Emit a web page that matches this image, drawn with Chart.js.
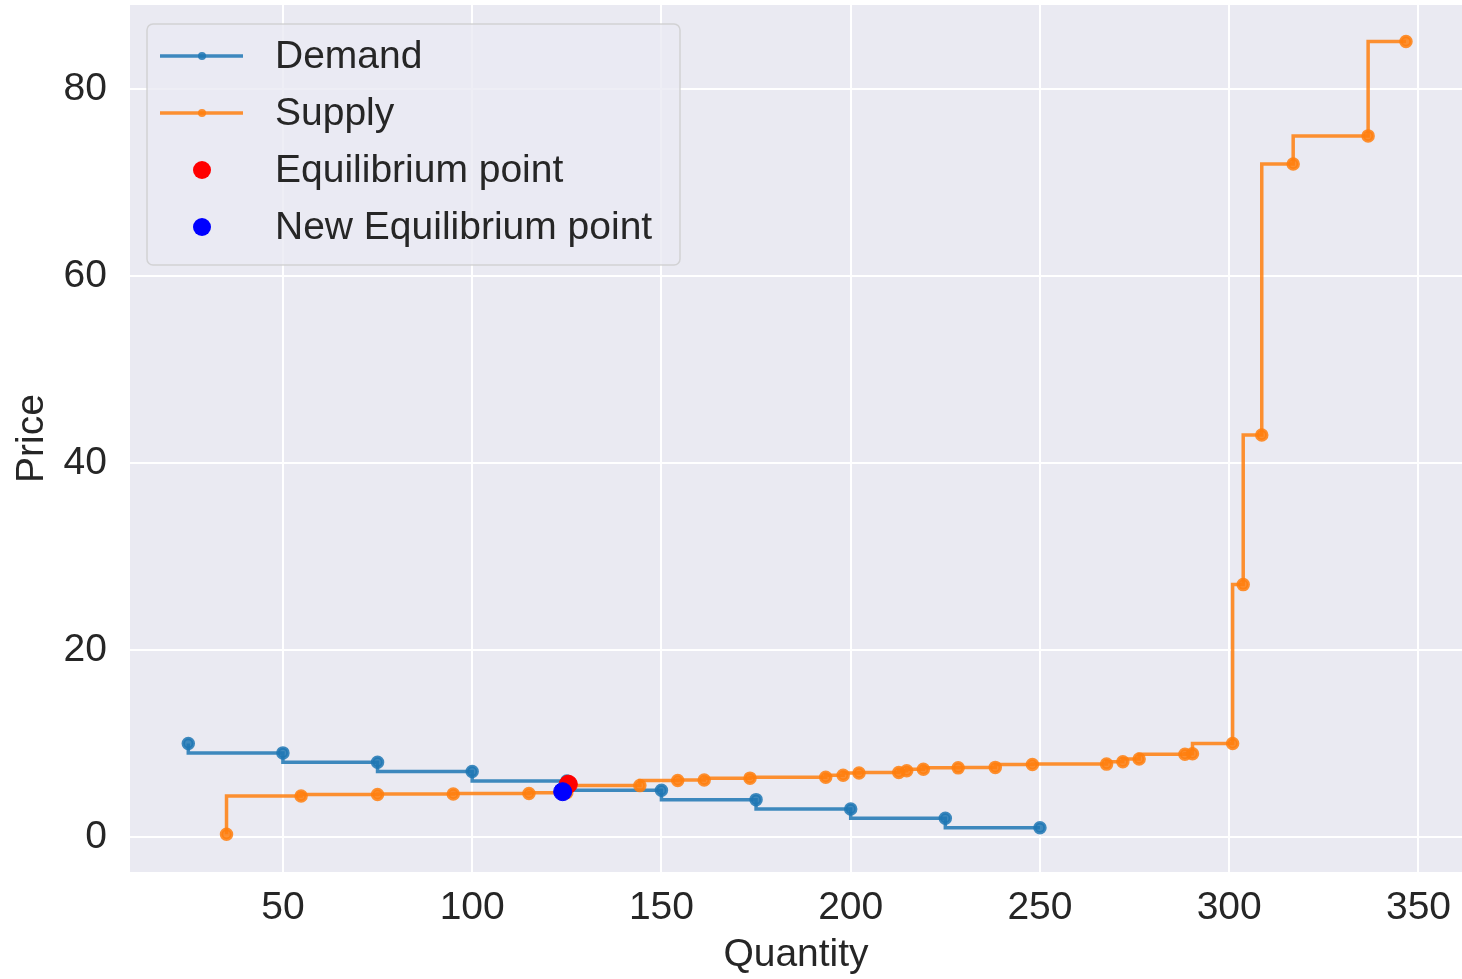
<!DOCTYPE html>
<html>
<head>
<meta charset="utf-8">
<script src="https://cdn.jsdelivr.net/npm/chart.js@4.4.1/dist/chart.umd.min.js"></script>
<style>
  html, body { margin: 0; padding: 0; background: #fff; }
</style>
</head>
<body>
<canvas id="chart" width="1462" height="979"></canvas>
<script>
// valores
const demandQty = [25, 50, 75, 100, 125, 150, 175, 200, 225, 250];
const demandPrice = [10, 9, 8, 7, 6, 5, 4, 3, 2, 1];

const supplyQty = [35.1, 54.8, 75, 95, 115, 125, 144.3, 154.3, 161.3, 173.4, 193.4, 198, 202.2, 212.7, 214.8,
  219.2, 228.4, 238.2, 248, 267.6, 271.9, 276.2, 288.3, 290.3, 300.9, 303.7, 308.6, 316.9, 336.7, 346.7];
const supplyPrice = [0.3, 4.4, 4.55, 4.6, 4.65, 4.75, 5.5, 6.05, 6.1, 6.3, 6.4, 6.6, 6.85, 6.9, 7.1,
  7.25, 7.4, 7.45, 7.75, 7.8, 8.05, 8.35, 8.85, 8.9, 10.0, 27.0, 43.0, 72.0, 75.0, 85.1];

const eqQty = [125.4];
const eqPrice = [5.65];
const newEqQty = [123.9];
const newEqPrice = [4.85];

const xTicks = [50, 100, 150, 200, 250, 300, 350];
const yTicks = [0, 20, 40, 60, 80];

const BLUE = 'rgba(31, 119, 180, 0.85)';
const ORANGE = 'rgba(255, 127, 14, 0.85)';
const FONT = '"Liberation Sans", Arial, sans-serif';
const TEXT = '#262626';

function pares(xs, ys) {
  return xs.map((x, i) => ({ x, y: ys[i] }));
}

// fundo cinza estilo seaborn
const fundoPlot = {
  id: 'fundoPlot',
  beforeDraw(chart) {
    const { ctx, chartArea: a } = chart;
    ctx.save();
    ctx.fillStyle = '#EAEAF2';
    ctx.fillRect(a.left, a.top, a.right - a.left, a.bottom - a.top);
    ctx.restore();
  }
};

// legenda dentro da área do gráfico, como no matplotlib
const legendaInterna = {
  id: 'legendaInterna',
  afterDraw(chart) {
    const ctx = chart.ctx;
    const box = { x: 147, y: 24, w: 533, h: 241 };
    ctx.save();
    ctx.beginPath();
    ctx.roundRect(box.x, box.y, box.w, box.h, 6);
    ctx.fillStyle = 'rgba(234, 234, 242, 0.8)';
    ctx.fill();
    ctx.strokeStyle = 'rgba(204, 204, 204, 0.8)';
    ctx.lineWidth = 1.5;
    ctx.stroke();

    ctx.font = '39px ' + FONT;
    ctx.fillStyle = TEXT;
    ctx.textBaseline = 'middle';
    chart.data.datasets.forEach((ds, i) => {
      const cy = 56 + i * 57;
      if (ds.showLine) {
        ctx.strokeStyle = ds.borderColor;
        ctx.lineWidth = 3.5;
        ctx.beginPath();
        ctx.moveTo(160, cy);
        ctx.lineTo(243, cy);
        ctx.stroke();
      }
      ctx.beginPath();
      ctx.arc(202, cy, ds.showLine ? 4 : 9, 0, Math.PI * 2);
      ctx.fillStyle = ds.backgroundColor;
      ctx.fill();
      ctx.fillStyle = TEXT;
      ctx.fillText(ds.label, 275, cy + 1);
    });
    ctx.restore();
  }
};

new Chart(document.getElementById('chart'), {
  type: 'scatter',
  data: {
    datasets: [
      {
        label: 'Demand',
        data: pares(demandQty, demandPrice),
        showLine: true,
        stepped: 'after',
        borderColor: BLUE,
        backgroundColor: BLUE,
        borderWidth: 3.5,
        pointRadius: 5,
        order: 4
      },
      {
        label: 'Supply',
        data: pares(supplyQty, supplyPrice),
        showLine: true,
        stepped: 'after',
        borderColor: ORANGE,
        backgroundColor: ORANGE,
        borderWidth: 3.5,
        pointRadius: 5,
        order: 3
      },
      {
        label: 'Equilibrium point',
        data: pares(eqQty, eqPrice),
        showLine: false,
        backgroundColor: 'red',
        borderColor: 'red',
        pointRadius: 9,
        order: 2
      },
      {
        label: 'New Equilibrium point',
        data: pares(newEqQty, newEqPrice),
        showLine: false,
        backgroundColor: 'blue',
        borderColor: 'blue',
        pointRadius: 9,
        order: 1
      }
    ]
  },
  options: {
    responsive: false,
    animation: false,
    layout: { autoPadding: false, padding: { top: 5, right: 0, left: 0, bottom: 0 } },
    plugins: {
      legend: { display: false },
      tooltip: { enabled: false }
    },
    scales: {
      x: {
        type: 'linear',
        min: 9.6,
        max: 361.5,
        afterFit: (s) => { s.height = 107; s.paddingLeft = 0; s.paddingRight = 0; },
        afterBuildTicks: (s) => { s.ticks = xTicks.map(v => ({ value: v })); },
        grid: { color: '#ffffff', lineWidth: 2, drawTicks: false },
        border: { display: false },
        ticks: { font: { size: 39, family: FONT }, color: TEXT, padding: 13 },
        title: { display: true, text: 'Quantity', font: { size: 39, family: FONT }, color: TEXT, padding: 0 }
      },
      y: {
        type: 'linear',
        min: -3.74,
        max: 89.0,
        afterFit: (s) => { s.width = 130; s.paddingTop = 0; s.paddingBottom = 0; },
        afterBuildTicks: (s) => { s.ticks = yTicks.map(v => ({ value: v })); },
        grid: { color: '#ffffff', lineWidth: 2, drawTicks: false },
        border: { display: false },
        ticks: { font: { size: 39, family: FONT }, color: TEXT, padding: 23 },
        title: { display: true, text: 'Price', font: { size: 39, family: FONT }, color: TEXT, padding: { top: 9 } }
      }
    }
  },
  plugins: [fundoPlot, legendaInterna]
});
</script>
</body>
</html>
